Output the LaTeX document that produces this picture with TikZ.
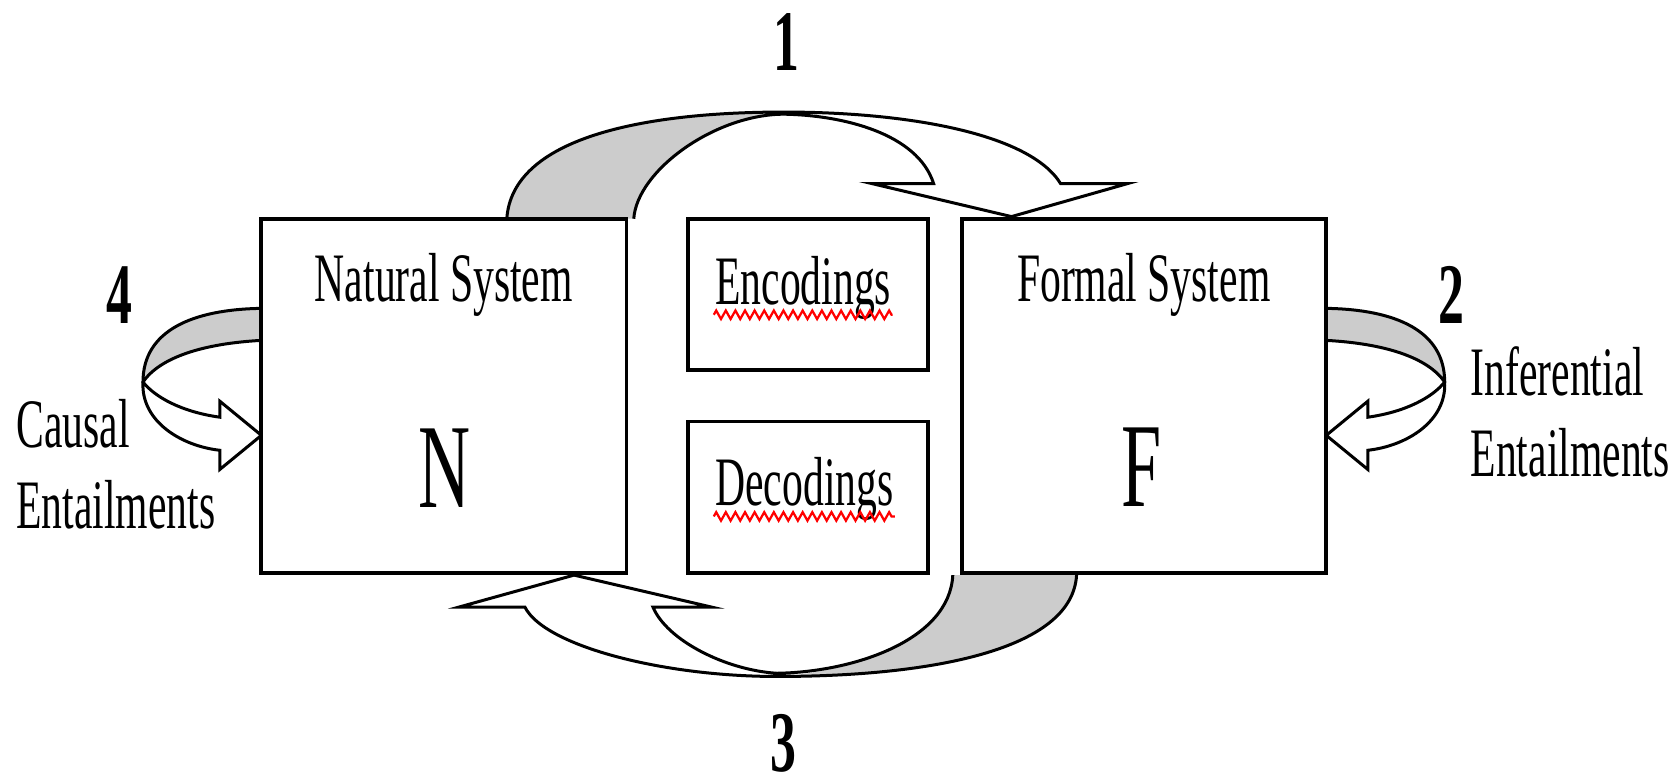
\documentclass[tikz,border=0pt]{standalone}
\usepackage{fontspec}
\setmainfont{Liberation Serif}[FakeStretch=0.6]
\usetikzlibrary{decorations.pathmorphing}

\tikzset{
  sysbox/.style={draw, line width=1pt, fill=white, inner sep=0pt},
  lbl/.style={font=\fontsize{18.5}{21.6}\selectfont, inner sep=0pt},
  bigletter/.style={font=\fontsize{32}{34}\selectfont, inner sep=0pt, anchor=base},
  num/.style={font=\bfseries\fontsize{23}{25}\selectfont, inner sep=0pt, anchor=base},
  band/.style={fill=gray!40},
  squiggle/.style={red, line width=0.6pt, decorate,
    decoration={zigzag, segment length=0.09cm, amplitude=0.04cm}},
}

\begin{document}
\begin{tikzpicture}[x=0.01cm, y=-0.01cm, line width=0.8pt]
    \useasboundingbox (0,0) rectangle (1568,732);
    % top arrow
    \fill[band] (475,205) .. controls (480,130) and (600,105) .. (735,105)
        .. controls (670,107) and (597,160) .. (594,205) -- cycle;
    \draw (475,205) .. controls (480,130) and (600,105) .. (735,105)
        .. controls (850,105) and (965,125) .. (994,172) -- (1057,172) -- (948,203)
        -- (817,172) -- (875,172) .. controls (860,125) and (790,108) .. (735,107)
        .. controls (670,107) and (597,160) .. (594,205);
    % bottom arrow
    \fill[band] (1009,539) .. controls (1005,610) and (870,634) .. (728,634)
        .. controls (800,630) and (890,600) .. (893,539) -- cycle;
    \draw (1009,539) .. controls (1005,610) and (870,634) .. (728,634)
        .. controls (620,634) and (510,605) .. (492,569) -- (430,569) -- (538,539)
        -- (667,569) -- (612,569) .. controls (625,600) and (680,628) .. (728,631)
        .. controls (800,630) and (890,600) .. (893,539);
    % side loops
    \foreach \s/\dx in {1/0, -1/1488} {
        \begin{scope}[xshift=\dx*0.01cm, xscale=\s]
            \fill[band] (245,289) .. controls (180,290) and (134,310) .. (134,358)
                .. controls (150,335) and (190,322) .. (245,319) -- cycle;
            \draw (245,289) .. controls (180,290) and (134,310) .. (134,358)
                .. controls (132,395) and (170,418) .. (206,422) -- (206,440)
                -- (245,408) -- (206,376) -- (206,391)
                .. controls (170,386) and (145,372) .. (134,358)
                .. controls (150,335) and (190,322) .. (245,319);
        \end{scope}
    }
    % boxes
    \node[sysbox, minimum width=3.42cm, minimum height=3.32cm] (nat) at (416,371) {};
    \node[sysbox, minimum width=3.41cm, minimum height=3.32cm] (form) at (1072.5,371) {};
    \node[sysbox, minimum width=2.25cm, minimum height=1.42cm] (enc) at (757.5,276) {};
    \node[sysbox, minimum width=2.25cm, minimum height=1.42cm] (dec) at (757.5,466) {};
    % labels
    \node[lbl, anchor=base] (natT) at (416,283) {Natural System};
    \node[lbl, anchor=base] (formT) at (1072,283) {Formal System};
    \node[lbl, anchor=base west] (encT) at (669,285) {Encodings};
    \node[lbl, anchor=base west] (decT) at (669,474) {Decodings};
    \node[bigletter] (bigN) at (417,476) {N};
    \node[bigletter] (bigF) at (1070,475) {F};
    \node[num] (n1) at (737,66) {1};
    \node[num] (n2) at (1360,303) {2};
    \node[num] (n3) at (734,723) {3};
    \node[num] (n4) at (112,303) {4};
    \node[lbl, align=left, anchor=base west] (causal) at (14,495) {Causal\\Entailments};
    \node[lbl, align=left, anchor=base west] (infer) at (1377,447) {Inferential\\Entailments};
    \draw[squiggle] ([yshift=-0.1cm]encT.base west) -- ([yshift=-0.1cm]encT.base east);
    \draw[squiggle] ([yshift=-0.1cm]decT.base west) -- ([yshift=-0.1cm]decT.base east);
\end{tikzpicture}
\end{document}
